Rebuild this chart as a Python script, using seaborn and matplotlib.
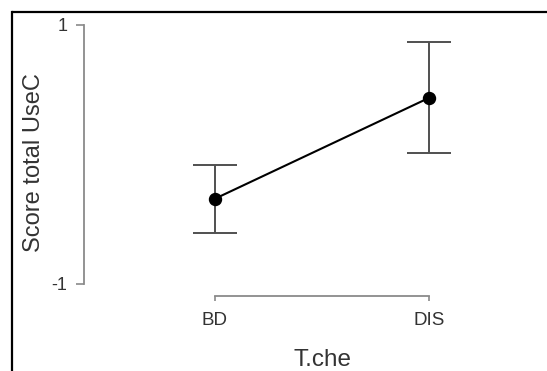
import matplotlib
matplotlib.use("Agg")
import matplotlib.pyplot as plt
import seaborn as sns
import pandas as pd
from matplotlib.lines import Line2D

categories = ["BD", "DIS"]
means = [-0.345, 0.438]
err_half = [0.264, 0.427]
y_ticks = [-1, 1]
x_label = "T.che"
y_label = "Score total UseC"

sns.set_style("white")
plt.rcParams["font.family"] = ["Liberation Sans", "DejaVu Sans"]

W, H = 547, 371
fig = plt.figure(figsize=(W / 100, H / 100), dpi=100, facecolor="white",
                 edgecolor="white", linewidth=0)

# axes placement (pixels from top-left)
ax_left, ax_right, ax_top, ax_bottom = 84, 540, 12, 295.7
ax = fig.add_axes([ax_left / W, 1 - ax_bottom / H,
                   (ax_right - ax_left) / W, (ax_bottom - ax_top) / H])

df = pd.DataFrame({"cat": categories, "mean": means})
sns.pointplot(data=df, x="cat", y="mean", errorbar=None, color="black",
              markers="o", markersize=8.5, linewidth=1.5, ax=ax, zorder=4)
ax.errorbar(range(len(categories)), means, yerr=err_half, fmt="none",
            ecolor="#505050", elinewidth=1.4, capsize=15.5, capthick=1.4,
            zorder=3)

ax.set_xlim(-0.607, 1.514)
ax.set_ylim(-1.093, 1.100)
ax.set_yticks(y_ticks)
ax.set_yticklabels([str(t) for t in y_ticks])
ax.set_xticks(range(len(categories)))
ax.set_xticklabels(categories)

for s in ["top", "right"]:
    ax.spines[s].set_visible(False)
for s in ["left", "bottom"]:
    ax.spines[s].set_color("#8a8a8a")
    ax.spines[s].set_linewidth(1.3)
ax.spines["left"].set_bounds(-1, 1)
ax.spines["bottom"].set_bounds(0, len(categories) - 1)

ax.tick_params(axis="y", direction="out", length=6, width=1.2, color="#8a8a8a",
               labelsize=13, pad=6, labelcolor="#333333", left=True)
ax.tick_params(axis="x", direction="out", length=3.5, width=1.2, color="#8a8a8a",
               labelsize=13.5, pad=8.5, labelcolor="#333333", bottom=True)

ax.set_ylabel(y_label, fontsize=17, color="#333333", va="center")
ax.yaxis.set_label_coords(34 / W, 1 - 162.5 / H, transform=fig.transFigure)
ax.set_xlabel(x_label, fontsize=17.5, color="#333333", va="baseline")
ax.xaxis.set_label_coords(322 / W, 1 - 366.5 / H, transform=fig.transFigure)

ax.patch.set_alpha(0)

# outer black frame (only left and top edges visible)
fx, fy = 12 / W, 1 - 12 / H
fig.add_artist(Line2D([fx, fx], [0, fy], transform=fig.transFigure,
                      color="black", linewidth=1.6, solid_capstyle="projecting"))
fig.add_artist(Line2D([fx, 1.02], [fy, fy], transform=fig.transFigure,
                      color="black", linewidth=1.6, solid_capstyle="butt"))

fig.savefig("out.png", dpi=100, facecolor="white", edgecolor="white")
